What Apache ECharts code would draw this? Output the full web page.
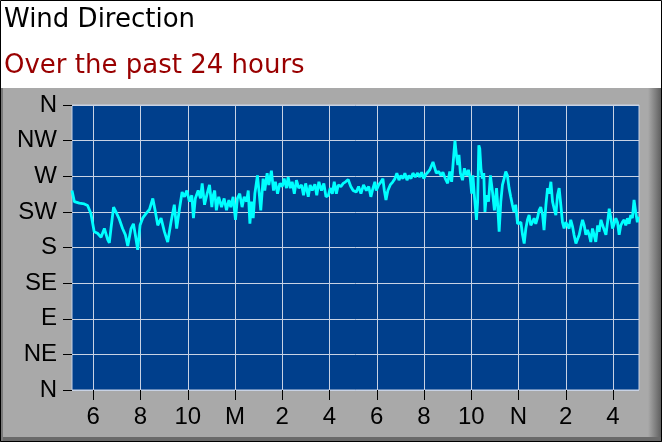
<!DOCTYPE html>
<html>
<head>
<meta charset="utf-8">
<style>
  html, body { margin: 0; padding: 0; background: #fff; }
  #chart { width: 662px; height: 442px; }
</style>
<script src="https://cdn.jsdelivr.net/npm/echarts@6/dist/echarts.min.js"></script>
</head>
<body>
<div id="chart"></div>
<script>
// hours on a running clock (24 = midnight, 36 = noon next day)
const hours = [
  17.10, 17.20, 17.41, 17.62, 17.76, 17.90, 18.04, 18.18, 18.33, 18.47,
  18.61, 18.68, 18.75, 18.86, 18.96, 19.10, 19.24, 19.36, 19.46, 19.60,
  19.70, 19.78, 19.88, 19.98, 20.09, 20.24, 20.38, 20.52, 20.63, 20.73,
  20.87, 21.01, 21.15, 21.29, 21.43, 21.53, 21.65, 21.76, 21.86, 21.96,
  22.07, 22.17, 22.24, 22.32, 22.44, 22.54, 22.61, 22.71, 22.82, 22.92,
  23.02, 23.07, 23.14, 23.21, 23.31, 23.43, 23.54, 23.64, 23.74, 23.82,
  23.92, 24.02, 24.10, 24.20, 24.30, 24.39, 24.49, 24.56, 24.63, 24.70,
  24.77, 24.84, 24.95, 25.02, 25.09, 25.19, 25.26, 25.36, 25.43, 25.54,
  25.63, 25.71, 25.80, 25.90, 26.00, 26.08, 26.18, 26.25, 26.34, 26.42,
  26.51, 26.60, 26.70, 26.82, 26.90, 26.99, 27.10, 27.18, 27.27, 27.38,
  27.46, 27.55, 27.66, 27.76, 27.85, 27.95, 28.03, 28.12, 28.20, 28.29,
  28.37, 28.48, 28.58, 28.68, 28.79, 28.90, 29.00, 29.13, 29.23, 29.33,
  29.44, 29.56, 29.66, 29.75, 29.84, 29.92, 29.98, 30.08, 30.18, 30.26,
  30.32, 30.39, 30.47, 30.57, 30.68, 30.77, 30.85, 30.94, 31.02, 31.11,
  31.19, 31.28, 31.36, 31.45, 31.53, 31.63, 31.73, 31.82, 31.90, 31.99,
  32.07, 32.16, 32.24, 32.32, 32.38, 32.44, 32.52, 32.62, 32.72, 32.80,
  32.90, 33.00, 33.09, 33.17, 33.26, 33.31, 33.37, 33.43, 33.48, 33.54,
  33.63, 33.71, 33.80, 33.88, 33.96, 34.02, 34.07, 34.13, 34.22, 34.27,
  34.32, 34.36, 34.41, 34.47, 34.53, 34.58, 34.64, 34.73, 34.81, 34.90,
  34.98, 35.07, 35.11, 35.18, 35.25, 35.32, 35.39, 35.46, 35.53, 35.60,
  35.67, 35.74, 35.81, 35.88, 35.96, 36.02, 36.10, 36.17, 36.24, 36.31,
  36.38, 36.45, 36.52, 36.59, 36.66, 36.73, 36.80, 36.87, 36.94, 37.02,
  37.08, 37.16, 37.23, 37.30, 37.37, 37.44, 37.51, 37.58, 37.65, 37.72,
  37.79, 37.86, 37.93, 38.00, 38.07, 38.14, 38.21, 38.29, 38.35, 38.43,
  38.50, 38.57, 38.64, 38.71, 38.78, 38.85, 38.92, 38.99, 39.06, 39.13,
  39.20, 39.27, 39.35, 39.41, 39.49, 39.56, 39.63, 39.70, 39.77, 39.84,
  39.91, 39.98, 40.05, 40.12, 40.19, 40.26, 40.33, 40.40, 40.47, 40.54,
  40.61, 40.68, 40.75, 40.82, 40.89, 40.96, 41.03, 41.07
];

// wind direction in degrees (0 = N, 90 = E, 180 = S, 270 = W)
const direction = [
  252, 238, 236, 235, 233, 223, 200, 198, 193, 204,
  190, 186, 204, 231, 225, 216, 204, 196, 182, 204,
  210, 196, 177, 208, 217, 223, 228, 242, 225, 208,
  217, 200, 187, 212, 234, 204, 229, 250, 244, 252,
  238, 246, 217, 242, 252, 242, 261, 234, 248, 259,
  231, 245, 252, 227, 244, 231, 242, 227, 240, 231,
  244, 215, 242, 248, 231, 244, 238, 252, 210, 238,
  217, 248, 271, 250, 227, 267, 252, 274, 259, 277,
  252, 263, 248, 261, 257, 267, 255, 269, 255, 263,
  248, 265, 255, 259, 246, 261, 244, 259, 252, 260,
  246, 263, 252, 261, 244, 246, 255, 248, 263, 248,
  259, 257, 261, 263, 266, 257, 252, 250, 257, 248,
  259, 252, 257, 244, 255, 263, 252, 259, 263, 267,
  252, 240, 252, 259, 263, 267, 274, 265, 271, 267,
  274, 265, 271, 267, 274, 269, 274, 269, 275, 267,
  272, 275, 278, 276, 288, 282, 274, 276, 271, 275,
  267, 261, 276, 263, 297, 315, 297, 284, 297, 274,
  265, 280, 271, 278, 267, 248, 271, 246, 215, 238,
  309, 305, 280, 267, 274, 225, 246, 238, 271, 250,
  227, 255, 238, 200, 238, 259, 267, 276, 271, 255,
  244, 234, 225, 234, 210, 208, 212, 196, 185, 204,
  215, 221, 208, 212, 217, 210, 217, 227, 231, 221,
  202, 234, 255, 248, 263, 238, 229, 221, 246, 255,
  234, 212, 204, 212, 208, 204, 215, 206, 196, 185,
  183, 196, 206, 215, 208, 196, 202, 196, 187, 204,
  196, 187, 208, 200, 215, 208, 202, 196, 212, 229,
  217, 204, 210, 217, 212, 196, 208, 212, 215, 208,
  217, 210, 221, 217, 240, 225, 212, 219
];

const compassLabels = ['N', 'NE', 'E', 'SE', 'S', 'SW', 'W', 'NW', 'N'];
const tickHours = [18, 20, 22, 24, 26, 28, 30, 32, 34, 36, 38, 40];

function hourLabel(h) {
  if (h % 24 === 0) return 'M';
  if (h % 24 === 12) return 'N';
  return String(((h - 1) % 12) + 1);
}

const chart = echarts.init(document.getElementById('chart'));

const labelFont = '"Liberation Sans", Arial, sans-serif';
const gridColor = '#c8d2e4';

chart.setOption({
  animation: false,
  backgroundColor: '#ffffff',
  textStyle: { fontFamily: labelFont },
  graphic: [
    // grey panel under the plot
    { type: 'rect', z: -10, shape: { x: 0, y: 88, width: 662, height: 354 },
      style: { fill: '#a9a9a9' } },
    { type: 'rect', z: -9, shape: { x: 648, y: 88, width: 14, height: 354 },
      style: { fill: new echarts.graphic.LinearGradient(0, 0, 1, 0, [
        { offset: 0, color: '#a9a9a9' }, { offset: 1, color: '#5a5a5a' }]) } },
    { type: 'rect', z: -9, shape: { x: 0, y: 437, width: 662, height: 5 },
      style: { fill: '#6a6a6a' } },
    { type: 'rect', z: -9, shape: { x: 0, y: 88, width: 3, height: 354 },
      style: { fill: '#7a7a7a' } },
    // outer frame
    { type: 'rect', z: 50, silent: true,
      shape: { x: 0.5, y: 0.5, width: 661, height: 441 },
      style: { fill: null, stroke: '#000', lineWidth: 1 } }
  ],
  title: [
    {
      text: 'Wind Direction', left: 4, top: 7, padding: 0,
      textStyle: { fontSize: 26, fontWeight: 'normal', color: '#000',
        fontFamily: '"DejaVu Sans", sans-serif' }
    },
    {
      text: 'Over the past 24 hours', left: 4, top: 53, padding: 0,
      textStyle: { fontSize: 26, fontWeight: 'normal', color: '#990000',
        fontFamily: '"DejaVu Sans", sans-serif' }
    }
  ],
  grid: {
    left: 72, right: 23, top: 105, bottom: 52,
    show: true, backgroundColor: '#003f8c',
    borderColor: gridColor, borderWidth: 1
  },
  xAxis: {
    type: 'value', min: 17.1, max: 41.1,
    axisLine: { show: false },
    axisTick: { show: true, length: 10, customValues: tickHours,
      lineStyle: { color: '#000', width: 1 } },
    axisLabel: { customValues: tickHours, margin: 15, fontSize: 24, color: '#000',
      formatter: v => hourLabel(v) },
    splitLine: { show: true, lineStyle: { color: gridColor, width: 1 } }
  },
  yAxis: {
    type: 'value', min: 0, max: 360, interval: 45,
    axisLine: { show: false },
    axisTick: { show: true, length: 9, lineStyle: { color: '#000', width: 1 } },
    axisLabel: { margin: 15, fontSize: 24, color: '#000',
      formatter: v => compassLabels[Math.round(v / 45)] },
    splitLine: { show: true, lineStyle: { color: gridColor, width: 1 } }
  },
  series: [{
    type: 'line',
    data: hours.map((h, i) => [h, direction[i]]),
    showSymbol: false,
    lineStyle: { color: '#00ffff', width: 2.8 },
    clip: true
  }]
});
</script>
</body>
</html>
